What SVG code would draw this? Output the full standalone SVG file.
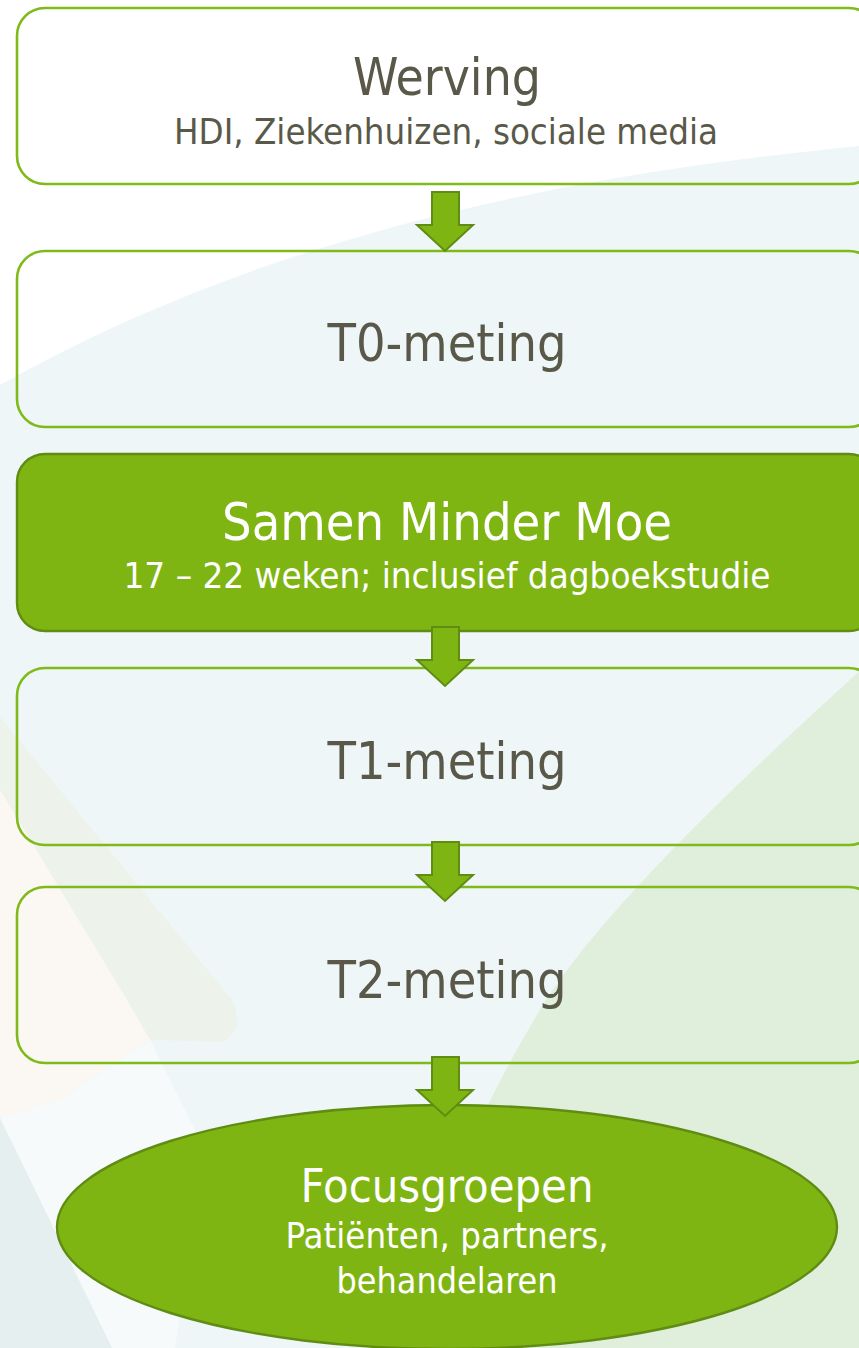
<svg xmlns="http://www.w3.org/2000/svg" width="859" height="1348" viewBox="0 0 859 1348">
<defs>
<style>
.box{fill:none;stroke:#7fba1a;stroke-width:2.6}
.gbox{fill:#7fb513;stroke:#5f8c12;stroke-width:2.4}
.arrow{fill:#7fb513;stroke:#5f8c12;stroke-width:2;stroke-linejoin:miter}
.t{font-family:"DejaVu Sans Condensed","DejaVu Sans",sans-serif;text-anchor:middle;fill:#5a5949}
.w{fill:#ffffff}
.big{font-size:52px}
.sub{font-size:36px}
</style>
</defs>
<g id="background">
<rect x="0" y="0" width="859" height="1348" fill="#eef6f8"/>
<path d="M0,0 H859 V146 C 640,168 300,215 0,385 Z" fill="#ffffff"/>
<path d="M0,717 L 232,1000 Q 246,1030 222,1042 L 150,1040 L 127,1000 L 0,790 Z" fill="#edf3eb"/>
<path d="M0,790 L 127,1000 L 150,1040 L 60,1100 L 0,1118 Z" fill="#fbf8f3"/>
<path d="M0,1118 L 60,1100 L 150,1040 L 205,1150 L 175,1348 L 112,1348 Z" fill="#f6fafa"/>
<path d="M0,1118 L 112,1348 L 0,1348 Z" fill="#e6eff0"/>
<path d="M900,635 C 760,760 600,910 540,1010 S 440,1200 400,1348 L 859,1348 L 859,635 Z" fill="#e0eedc"/>
</g>
<g id="werving">
<rect class="box" x="17" y="8" width="860" height="176" rx="28"/>
<text class="t big" x="447" y="95" textLength="188" lengthAdjust="spacingAndGlyphs">Werving</text>
<text class="t sub" x="446" y="144" textLength="544" lengthAdjust="spacingAndGlyphs">HDI, Ziekenhuizen, sociale media</text>
</g>
<g id="t0">
<rect class="box" x="17" y="251" width="860" height="176" rx="28"/>
<text class="t big" x="447" y="361" textLength="239" lengthAdjust="spacingAndGlyphs">T0-meting</text>
</g>
<g id="smm">
<rect class="gbox" x="17" y="454" width="860" height="177" rx="28"/>
<text class="t big w" x="447" y="540" textLength="450" lengthAdjust="spacingAndGlyphs">Samen Minder Moe</text>
<text class="t sub w" x="447" y="588" textLength="647" lengthAdjust="spacingAndGlyphs">17 – 22 weken; inclusief dagboekstudie</text>
</g>
<g id="t1">
<rect class="box" x="17" y="668" width="860" height="177" rx="28"/>
<text class="t big" x="447" y="779" textLength="239" lengthAdjust="spacingAndGlyphs">T1-meting</text>
</g>
<g id="t2">
<rect class="box" x="17" y="887" width="860" height="176" rx="28"/>
<text class="t big" x="447" y="998" textLength="239" lengthAdjust="spacingAndGlyphs">T2-meting</text>
</g>
<g id="focus">
<ellipse class="gbox" cx="447" cy="1227" rx="390" ry="122"/>
<text class="t w" style="font-size:47px" x="447" y="1202" textLength="293" lengthAdjust="spacingAndGlyphs">Focusgroepen</text>
<text class="t sub w" x="447" y="1248" textLength="323" lengthAdjust="spacingAndGlyphs">Patiënten, partners,</text>
<text class="t sub w" x="447" y="1293" textLength="221" lengthAdjust="spacingAndGlyphs">behandelaren</text>
</g>
<g id="connectors">
<path class="arrow" d="M432,192 H459 V225 H473 L445,251 L417,225 H432 Z"/>
<path class="arrow" d="M432,627 H459 V660 H473 L445,686 L417,660 H432 Z"/>
<path class="arrow" d="M432,842 H459 V875 H473 L445,901 L417,875 H432 Z"/>
<path class="arrow" d="M432,1057 H459 V1090 H473 L445,1116 L417,1090 H432 Z"/>
</g>
</svg>
